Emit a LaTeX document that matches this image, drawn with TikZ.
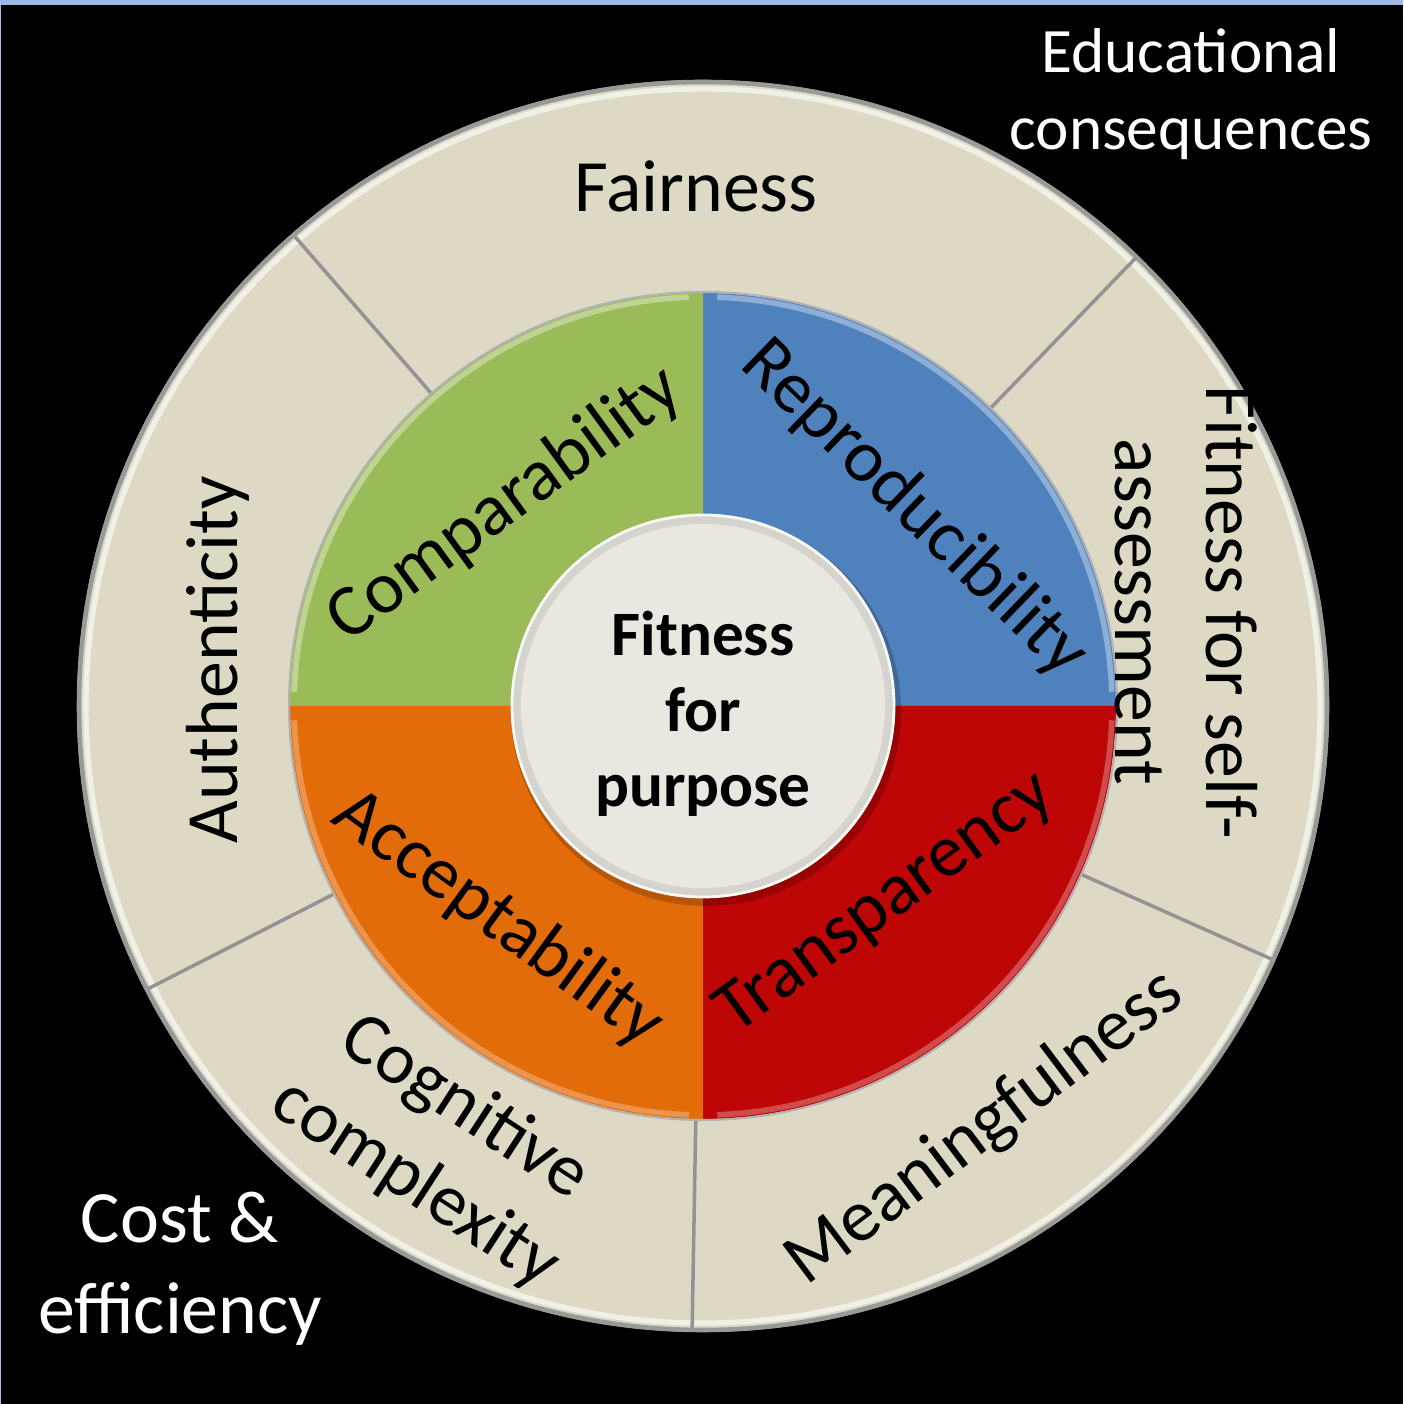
\documentclass[tikz,border=0pt]{standalone}
\usepackage{fontspec}
\setmainfont{Carlito}

\definecolor{ringbeige}{HTML}{DDD9C4}
\definecolor{qgreen}{HTML}{9BBB59}
\definecolor{qblue}{HTML}{4F81BD}
\definecolor{qred}{HTML}{BE0606}
\definecolor{qorange}{HTML}{E36C0A}
\definecolor{hubgray}{HTML}{E9E7DF}
\definecolor{framebl}{HTML}{9DB9E6}

\begin{document}
\begin{tikzpicture}[
  lbl/.style={font=\fontsize{21}{25.8}\selectfont, align=center, inner sep=0pt},
  outlbl/.style={lbl, text=white},
  edge/.style={line width=1.6pt, opacity=0.8},
]

\useasboundingbox (0,0) rectangle (14.03,14.04);
\fill[black] (0,0) rectangle (14.03,14.04);
\fill[framebl] (0,13.99) rectangle (14.03,14.04);
\fill[framebl] (0,0) rectangle (0.012,14.04);

\begin{scope}[shift={(7.03,6.98)}]

% outer ring
\fill[ringbeige] (0,0) circle (6.26);
\draw[gray!80, line width=1.3pt] (0,0) circle (6.24);
\draw[white!60!ringbeige, line width=1.5pt] (0,0) circle (6.17);
\foreach \a in {46,131,207,269,336}
  \draw[gray!85, line width=1pt] (\a:4.1) -- (\a:6.22);

% quadrants
\fill[qblue] (0,0) -- (0:4.13) arc (0:90:4.13) -- cycle;
\fill[qgreen] (0,0) -- (90:4.13) arc (90:180:4.13) -- cycle;
\fill[qorange] (0,0) -- (180:4.13) arc (180:270:4.13) -- cycle;
\fill[qred] (0,0) -- (270:4.13) arc (270:360:4.13) -- cycle;
\draw[edge, qblue!55!white] (2:4.09) arc (2:88:4.09);
\draw[edge, qgreen!55!white] (92:4.09) arc (92:178:4.09);
\draw[edge, qorange!65!white] (182:4.09) arc (182:268:4.09);
\draw[edge, qred!65!white] (272:4.09) arc (272:358:4.09);
\draw[gray!60, line width=0.6pt] (0,0) circle (4.14);

% hub
\fill[black, opacity=0.2] (0.03,-0.05) circle (1.95);
\shade[inner color=hubgray!40!white, outer color=hubgray!80!gray] (0,0) circle (1.92);
\fill[hubgray] (0,0) circle (1.82);
\draw[white!70!hubgray, line width=0.8pt] (0,0) circle (1.91);

\node[font=\bfseries\fontsize{18}{21.5}\selectfont, align=center] (hub) at (0,-0.08) {Fitness\\for\\purpose};

\node[lbl, rotate=36] (compar) at (-1.98,2.01) {Comparability};
\node[lbl, rotate=-44] (reprod) at (2.11,1.97) {Reproducibility};
\node[lbl, rotate=36] (transp) at (1.83,-1.98) {Transparency};
\node[lbl, rotate=-36] (accept) at (-2.05,-2.13) {Acceptability};

\node[lbl, anchor=base] (fair) at (-0.07,4.94) {Fairness};
\node[lbl, rotate=90, anchor=base] (authen) at (-4.66,0.46) {Authenticity};
\node[lbl, rotate=-33] (cognit) at (-2.63,-4.40) {Cognitive\\complexity};
\node[lbl, rotate=37] (meaning) at (2.82,-4.22) {Meaningfulness};
\node[lbl, rotate=-90] (selfass) at (4.83,0.94) {Fitness for self-\\assessment};

\node[outlbl, font=\fontsize{18}{21.8}\selectfont] (educ) at (4.88,6.12) {Educational\\consequences};
\node[outlbl] (cost) at (-5.23,-5.63) {Cost \&\\efficiency};

\end{scope}

\end{tikzpicture}
\end{document}
